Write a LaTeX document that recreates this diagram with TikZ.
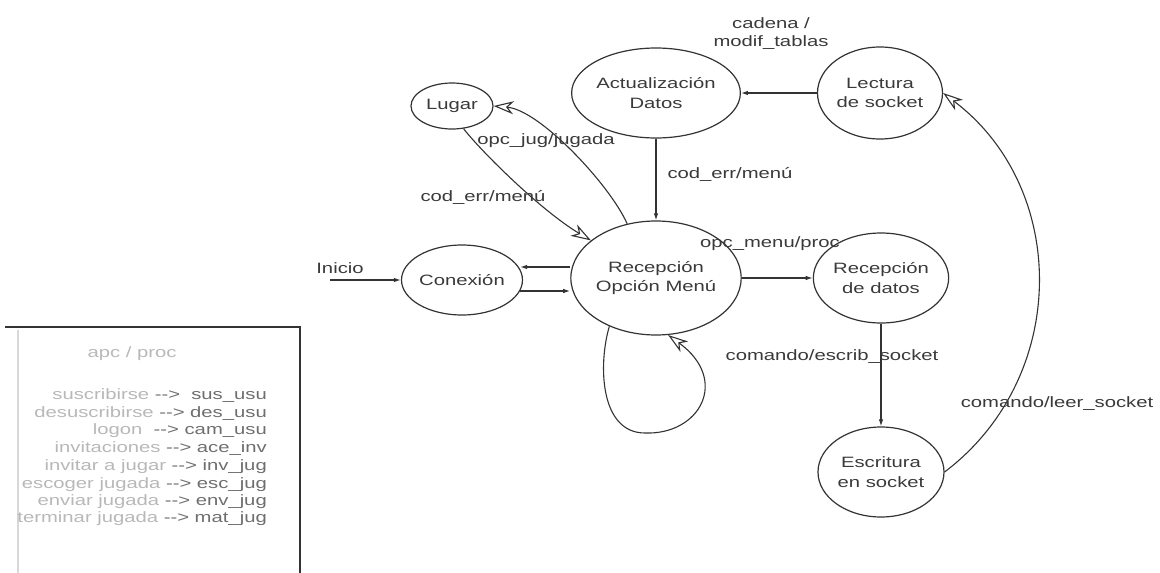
\documentclass[tikz,border=0pt]{standalone}
\usepackage{fontspec}
\setmainfont{Liberation Sans}[FakeStretch=1.35]
\usetikzlibrary{arrows.meta,shapes.geometric}
\definecolor{ink}{HTML}{333333}
\definecolor{txt}{HTML}{3A3A3A}
\definecolor{faded}{HTML}{B8B8B8}
\definecolor{midgray}{HTML}{6E6E6E}
\definecolor{edgegray}{HTML}{D8D8D8}
\begin{document}
\begin{tikzpicture}[x=1pt,y=-1pt,
  st/.style={ellipse, draw=ink, line width=1.2pt, inner sep=0pt, align=center, text=txt,
             font=\fontsize{15}{19.5}\selectfont},
  lbl/.style={text=txt, font=\fontsize{15}{18}\selectfont, inner sep=0pt, align=center},
  farr/.style={draw=ink, line width=1.2pt, -{Latex[length=7pt,width=4.5pt]}},
  oarr/.style={draw=ink, line width=1.1pt, -{Stealth[open,length=20pt,width=13pt,inset=6pt]}},
  boxt/.style={font=\fontsize{15}{17.6}\selectfont, inner sep=0pt, anchor=base east},
  boxline/.style={draw=ink, line width=1.2pt}]
\useasboundingbox (0,0) rectangle (1160,573);

% legend box
\draw[edgegray, line width=2pt] (18,330) -- (18,573);
\draw[boxline] (5,327) -- (300,327) -- (300,573);
\node[boxt, anchor=base, text=faded] (bhead) at (132,357) {apc / proc};
\begin{scope}
\clip (10,330) rectangle (298,573);
\node[boxt] (b1) at (267,399) {\textcolor{faded}{suscribirse} \textcolor{midgray}{-{}->\ \ sus\_usu}};
\node[boxt] (b2) at (267,417) {\textcolor{faded}{desuscribirse} \textcolor{midgray}{-{}-> des\_usu}};
\node[boxt] (b3) at (267,434) {\textcolor{faded}{logon} \textcolor{midgray}{\ -{}-> cam\_usu}};
\node[boxt] (b4) at (267,452) {\textcolor{faded}{invitaciones} \textcolor{midgray}{-{}-> ace\_inv}};
\node[boxt] (b5) at (267,470) {\textcolor{faded}{invitar a jugar} \textcolor{midgray}{-{}-> inv\_jug}};
\node[boxt] (b6) at (267,488) {\textcolor{faded}{escoger jugada} \textcolor{midgray}{-{}-> esc\_jug}};
\node[boxt] (b7) at (267,505) {\textcolor{faded}{enviar jugada} \textcolor{midgray}{-{}-> env\_jug}};
\node[boxt] (b8) at (267,522) {\textcolor{faded}{terminar jugada} \textcolor{midgray}{-{}-> mat\_jug}};
\end{scope}

% states
\node[st, minimum width=82pt, minimum height=46pt] (lugar) at (452,106) {Lugar};
\node[st, minimum width=146pt, minimum height=90pt] (act) at (656,93) {Actualización\\Datos};
\node[st, minimum width=125pt, minimum height=92pt] (lect) at (880,93) {Lectura\\de socket};
\node[st, minimum width=142pt, minimum height=114pt] (rec) at (656,278) {Recepción\\Opción Menú};
\node[st, minimum width=100pt, minimum height=70pt] (con) at (462,280) {Conexión};
\node[st, minimum width=125pt, minimum height=90pt] (recd) at (881,278) {Recepción\\de datos};
\node[st, minimum width=126pt, minimum height=90pt] (esc) at (881,472) {Escritura\\en socket};

% connectors
\coordinate (ini) at (330,280);
\draw[farr] (ini) -- (con.west);
\node[lbl] (linicio) at (340,268) {Inicio};

\draw[farr] ([yshift=11pt]rec.west) -- ([xshift=-3pt,yshift=13pt]con.east);
\draw[farr] ([xshift=-3pt,yshift=-11pt]con.east) -- ([yshift=-13pt]rec.west);

\draw[farr] (rec.east) -- (recd.west);
\node[lbl] (lopcmenu) at (770,244) {opc\_menu/proc};

\draw[farr] (act.south) -- (rec.north);
\node[lbl] (lcoderr2) at (730,174) {cod\_err/menú};

\draw[farr] (lect.west) -- (act.east);
\node[lbl] (lcadena) at (771,34) {cadena /\\modif\_tablas};

\draw[farr] (recd.south) -- (esc.north);
\node[lbl] (lescrib) at (832,357) {comando/escrib\_socket};

\draw[oarr] (esc.east) .. controls (1070,377) and (1069,188) .. (lect.east);
\node[lbl] (lleer) at (1057,404) {comando/leer\_socket};

\draw[oarr] (rec.226) .. controls (598,365) and (600,433) .. (645,433)
            .. controls (700,435) and (730,380) .. (rec.282);

\draw[oarr] (rec.118) .. controls (610,185) and (540,110) .. (lugar.east);
\node[lbl] (lopcjug) at (546,141) {opc\_jug/jugada};

\draw[oarr] (lugar.297) .. controls (480,150) and (540,210) .. (rec.150);
\node[lbl] (lcoderr1) at (483,197) {cod\_err/menú};
\end{tikzpicture}
\end{document}
